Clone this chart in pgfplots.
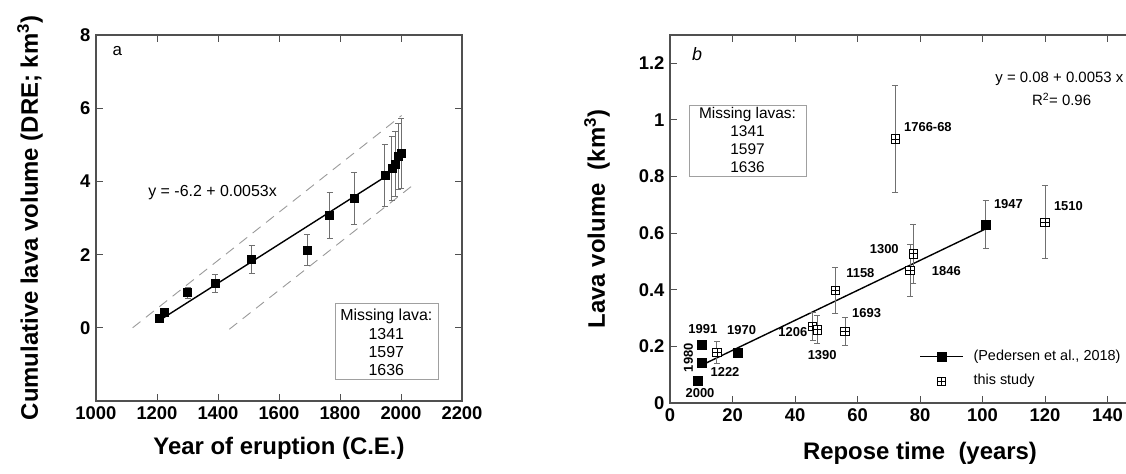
\documentclass[border=0pt]{standalone}
\usepackage{pgfplots}
\pgfplotsset{compat=1.18}
\usepackage{fontspec}
\setmainfont{Liberation Sans}
\definecolor{axgray}{HTML}{505050}
\definecolor{ebgray}{HTML}{707070}
\definecolor{dashgray}{HTML}{9A9A9A}
\definecolor{boxgray}{HTML}{A0A0A0}
\pgfdeclareplotmark{sqplus}{%
  \pgfpathrectangle{\pgfpoint{-\pgfplotmarksize}{-\pgfplotmarksize}}{\pgfpoint{2\pgfplotmarksize}{2\pgfplotmarksize}}%
  \pgfusepathqfillstroke
  \pgfpathmoveto{\pgfpoint{-\pgfplotmarksize}{0pt}}\pgfpathlineto{\pgfpoint{\pgfplotmarksize}{0pt}}%
  \pgfpathmoveto{\pgfpoint{0pt}{-\pgfplotmarksize}}\pgfpathlineto{\pgfpoint{0pt}{\pgfplotmarksize}}%
  \pgfusepathqstroke}
\pgfplotsset{
  myax/.style={
    scale only axis,
    axis line style={line width=1.2bp, axgray},
    tick style={line width=1bp, axgray},
    major tick length=7bp,
    tick align=inside,
    /pgf/number format/assume math mode=true,
    /pgf/number format/1000 sep={},
    ticklabel style={font=\bfseries\fontsize{18.5}{18.5}\selectfont},
    label style={font=\bfseries\fontsize{24}{26}\selectfont},
    clip=false,
  },
  ebars/.style={error bars/.cd, y dir=both, y explicit,
    error bar style={line width=0.8bp, ebgray},
    error mark options={rotate=90, mark size=3bp, ebgray, line width=0.8bp}},
}
\begin{document}
\begin{tikzpicture}
% ---------- panel a ----------
\begin{axis}[myax,
  at={(96bp,73bp)}, anchor=south west,
  width=366bp, height=366bp,
  xmin=1000, xmax=2200, ymin=-2, ymax=8,
  xtick={1000,1200,...,2200}, ytick={0,2,4,6,8},
  xlabel={Year of eruption (C.E.)},
  ylabel={Cumulative lava volume (DRE; km\textsuperscript{3})},
  xlabel style={at={(axis description cs:0.5,-0.128)}, anchor=center},
  ylabel style={at={(axis description cs:-0.180,0.5)}, anchor=center, rotate=0},
  xticklabel style={yshift=-2bp},
  yticklabel style={xshift=-2bp},
]
\addplot[dashgray, line width=0.9bp, dash pattern=on 10bp off 7bp] coordinates {(1120,0.0) (2002,5.8)};
\addplot[dashgray, line width=0.9bp, dash pattern=on 10bp off 7bp] coordinates {(1437,-0.04) (2035,3.87)};
\addplot[black, line width=1.4bp] coordinates {(1215,0.24) (1950,4.135)};
\addplot[only marks, mark=square*, mark size=4bp, black, ebars] table[y error=e] {
x y e
1206 0.27 0
1222 0.43 0
1300 0.96 0.15
1390 1.22 0.25
1510 1.87 0.38
1693 2.13 0.43
1766 3.07 0.62
1846 3.54 0.71
1947 4.16 0.84
1970 4.35 0.87
1980 4.48 0.89
1991 4.68 0.91
2000 4.77 0.95
};
\node[font=\fontsize{16}{16}\selectfont, anchor=west] at (axis cs:1160,3.7) {y = -6.2 + 0.0053x};
\node[font=\fontsize{17}{17}\selectfont] at (axis cs:1070,7.55) {a};
\draw[boxgray, line width=0.8bp] (axis cs:1784,-1.4) rectangle (axis cs:2121,0.68);
\node[font=\fontsize{16}{18.3}\selectfont, align=center] at (axis cs:1952,-0.40) {Missing lava:\\1341\\1597\\1636};
\end{axis}
% ---------- panel b ----------
\begin{axis}[myax,
  at={(670bp,71bp)}, anchor=south west,
  width=500bp, height=368bp,
  xmin=0, xmax=160, ymin=0, ymax=1.3,
  xtick={0,20,...,160}, ytick={0,0.2,...,1.2},
  xticklabels={0,20,40,60,80,100,120,140,},
  yticklabel style={/pgf/number format/fixed, xshift=-2bp},
  xticklabel style={yshift=-2bp},
  xlabel={Repose time\ \ (years)},
  ylabel={Lava volume\ \ (km\textsuperscript{3})},
  xlabel style={at={(axis description cs:0.5,-0.136)}, anchor=center},
  ylabel style={at={(axis description cs:-0.146,0.5)}, anchor=center},
]
\addplot[black, line width=1.4bp] coordinates {(10,0.133) (101,0.615)};
\addplot[only marks, mark=sqplus, mark size=4.2bp, black, fill=white, mark options={line width=0.7bp}, ebars] table[y error=e] {
x y e
15.0 0.178 0.038
45.6 0.271 0.05
47.1 0.259 0.05
56.0 0.253 0.05
52.9 0.398 0.08
76.8 0.468 0.093
77.9 0.527 0.105
72.1 0.933 0.19
120.0 0.639 0.128
};
\addplot[only marks, mark=square*, mark size=4.5bp, black, ebars] table[y error=e] {
x y e
9.0 0.080 0
10.0 0.141 0
10.0 0.206 0
21.6 0.178 0
101.0 0.631 0.085
};
% legend
\addplot[black, line width=1.4bp] coordinates {(80,0.165) (93.7,0.165)};
\addplot[only marks, mark=square*, mark size=4.5bp, black] coordinates {(86.9,0.165)};
\addplot[only marks, mark=sqplus, mark size=3.8bp, black, fill=white, mark options={line width=0.7bp}] coordinates {(86.9,0.077)};
\node[font=\fontsize{14.5}{14.5}\selectfont, anchor=west] at (axis cs:96,0.165) {(Pedersen et al., 2018)};
\node[font=\fontsize{14.5}{14.5}\selectfont, anchor=west] at (axis cs:96,0.077) {this study};
% annotations
\node[font=\itshape\fontsize{18}{18}\selectfont] at (axis cs:8.7,1.233) {b};
\node[font=\fontsize{15}{15}\selectfont] at (axis cs:124.6,1.146) {y = 0.08 + 0.0053 x};
\node[font=\fontsize{15}{15}\selectfont] at (axis cs:125.3,1.072) {R\textsuperscript{2}= 0.96};
\draw[boxgray, line width=0.8bp] (axis cs:6.1,0.801) rectangle (axis cs:43.5,1.053);
\node[font=\fontsize{15.5}{18}\selectfont, align=center] at (axis cs:24.8,0.928) {Missing lavas:\\1341\\1597\\1636};
\begin{scope}[every node/.style={font=\bfseries\fontsize{13}{13}\selectfont}]
\node[anchor=west] at (axis cs:73.8,0.975) {1766-68};
\node[anchor=east] at (axis cs:74.3,0.544) {1300};
\node[anchor=west] at (axis cs:82.7,0.467) {1846};
\node[anchor=west] at (axis cs:55.3,0.459) {1158};
\node at (axis cs:62.9,0.316) {1693};
\node at (axis cs:39.3,0.252) {1206};
\node at (axis cs:48.7,0.169) {1390};
\node at (axis cs:22.9,0.258) {1970};
\node at (axis cs:10.5,0.260) {1991};
\node at (axis cs:17.6,0.109) {1222};
\node at (axis cs:9.6,0.035) {2000};
\node[rotate=90] at (axis cs:5.9,0.160) {1980};
\node at (axis cs:108.3,0.703) {1947};
\node at (axis cs:127.5,0.697) {1510};
\end{scope}
\end{axis}
\pgfresetboundingbox
\useasboundingbox (0,0) rectangle (1126bp,474bp);
\end{tikzpicture}
\end{document}
